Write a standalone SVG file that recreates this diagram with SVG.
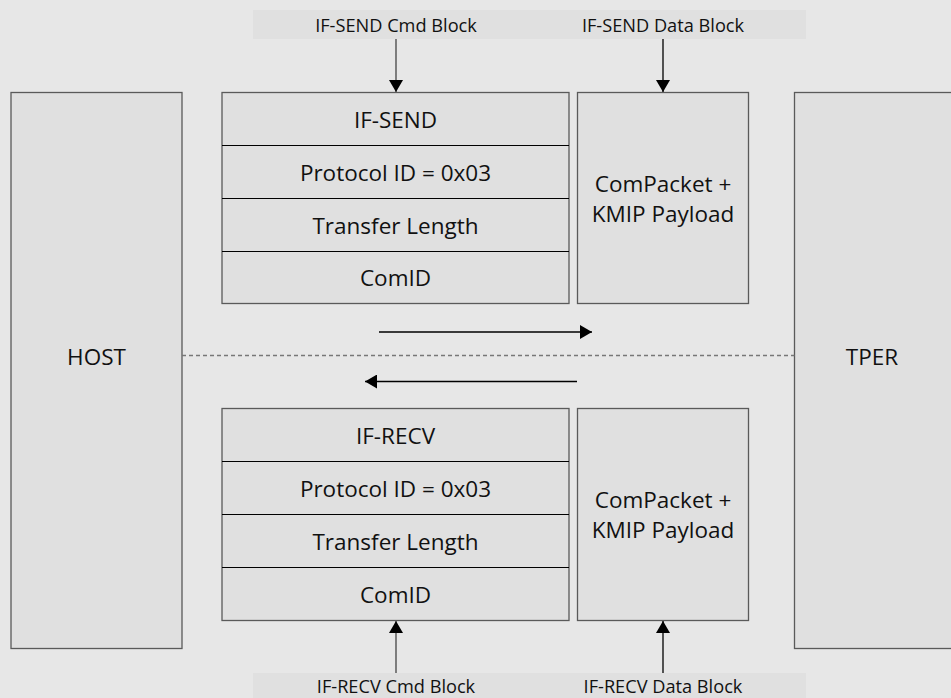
<svg xmlns="http://www.w3.org/2000/svg" width="951" height="698" viewBox="0 0 951 698">
  <style>
    .box { fill: #e0e0e0; stroke: #5a5a5a; stroke-width: 1.3; }
    .row { stroke: #000; stroke-width: 1.2; }
    .band { fill: #e0e0e0; }
    .t { font-family: "Open Sans", "Liberation Sans", sans-serif; font-size: 22.5px; fill: #111; text-anchor: middle; dominant-baseline: central; }
    .s { font-family: "Open Sans", "Liberation Sans", sans-serif; font-size: 18.2px; fill: #111; text-anchor: middle; dominant-baseline: central; }
    .line { stroke: #000; stroke-width: 1.3; fill: none; }
    .grey { stroke: #444; }
    .dash { stroke: #777; stroke-width: 1.3; stroke-dasharray: 4 3; fill: none; }
  </style>
  <defs>
    <marker id="arrowH" viewBox="0 0 12 14" refX="12" refY="7" markerWidth="12" markerHeight="14" markerUnits="userSpaceOnUse" orient="auto">
      <path d="M0,0 L12,7 L0,14 z" fill="#000"/>
    </marker>
  </defs>

  <rect x="0" y="0" width="951" height="698" fill="#e7e7e7"/>

  <!-- label bands -->
  <rect class="band" x="253" y="10" width="553" height="29"/>
  <rect class="band" x="253" y="673" width="553" height="25"/>

  <g id="host">
    <rect class="box" x="11" y="92.5" width="171" height="556"/>
    <text class="t" x="96.5" y="356">HOST</text>
  </g>

  <g id="tper">
    <rect class="box" x="794.5" y="92.5" width="160" height="556"/>
    <text class="t" x="872" y="356">TPER</text>
  </g>

  <g id="if-send-cmd">
    <rect class="box" x="222" y="92.5" width="347" height="211"/>
    <line class="row" x1="222" y1="145.5" x2="569" y2="145.5"/>
    <line class="row" x1="222" y1="198.5" x2="569" y2="198.5"/>
    <line class="row" x1="222" y1="251.5" x2="569" y2="251.5"/>
    <text class="t" x="395.5" y="119">IF-SEND</text>
    <text class="t" x="395.5" y="172">Protocol ID = 0x03</text>
    <text class="t" x="395.5" y="225">Transfer Length</text>
    <text class="t" x="395.5" y="277.5">ComID</text>
  </g>

  <g id="if-send-data">
    <rect class="box" x="577.5" y="92.5" width="171" height="211"/>
    <text class="t" x="663" y="183">ComPacket +</text>
    <text class="t" x="663" y="213">KMIP Payload</text>
  </g>

  <g id="if-recv-cmd">
    <rect class="box" x="222" y="408.5" width="347" height="212"/>
    <line class="row" x1="222" y1="461.5" x2="569" y2="461.5"/>
    <line class="row" x1="222" y1="514.5" x2="569" y2="514.5"/>
    <line class="row" x1="222" y1="567.5" x2="569" y2="567.5"/>
    <text class="t" x="395.5" y="435">IF-RECV</text>
    <text class="t" x="395.5" y="488">Protocol ID = 0x03</text>
    <text class="t" x="395.5" y="541">Transfer Length</text>
    <text class="t" x="395.5" y="594">ComID</text>
  </g>

  <g id="if-recv-data">
    <rect class="box" x="577.5" y="408.5" width="171" height="212"/>
    <text class="t" x="663" y="499">ComPacket +</text>
    <text class="t" x="663" y="529">KMIP Payload</text>
  </g>

  <g id="labels">
    <text class="s" x="396" y="24.5">IF-SEND Cmd Block</text>
    <text class="s" x="663" y="24.5">IF-SEND Data Block</text>
    <text class="s" x="396" y="686">IF-RECV Cmd Block</text>
    <text class="s" x="663" y="686">IF-RECV Data Block</text>
  </g>

  <g id="connectors">
    <line class="line grey" x1="396" y1="39" x2="396" y2="92" marker-end="url(#arrowH)"/>
    <line class="line" x1="663" y1="39" x2="663" y2="92" marker-end="url(#arrowH)"/>
    <line class="line grey" x1="396" y1="673" x2="396" y2="621" marker-end="url(#arrowH)"/>
    <line class="line" x1="663" y1="673" x2="663" y2="621" marker-end="url(#arrowH)"/>
    <line class="line" x1="379" y1="332" x2="592" y2="332" marker-end="url(#arrowH)"/>
    <line class="line" x1="577" y1="381.5" x2="365" y2="381.5" marker-end="url(#arrowH)"/>
    <line class="dash" x1="182" y1="355.5" x2="794.5" y2="355.5"/>
  </g>
</svg>
